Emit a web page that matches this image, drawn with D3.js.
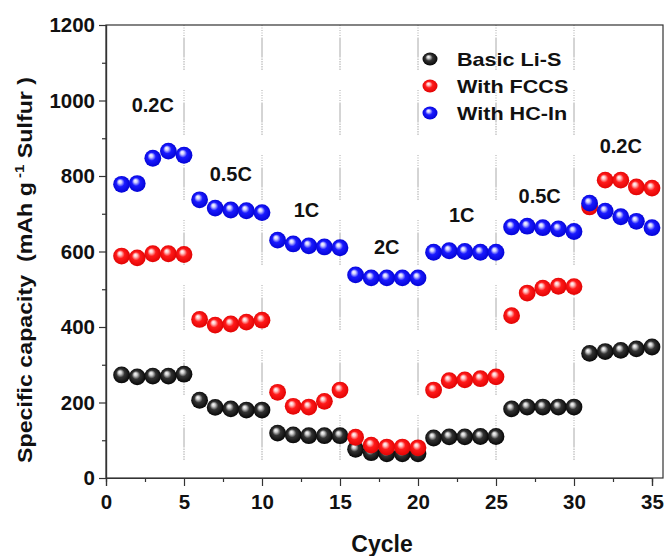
<!DOCTYPE html>
<html>
<head>
<meta charset="utf-8">
<script src="https://cdn.jsdelivr.net/npm/d3@7"></script>
<style>
  body { margin: 0; background: #fff; }
  svg { font-family: "Liberation Sans", Arial, sans-serif; font-weight: bold; }
</style>
</head>
<body>
<div id="chart"></div>
<script>
// cycle numbers
const cycles = d3.range(1, 36);

// capacities (mAh g-1 sulfur)
const basicLiS = [273, 268, 270, 270, 275, 206, 187, 183, 180, 180,
  119, 114, 112, 112, 112, 76, 67, 64, 64, 64,
  106, 109, 109, 110, 110, 183, 188, 188, 188, 188,
  330, 335, 338, 342, 347];
const withFCCS = [588, 583, 594, 594, 592, 420, 405, 408, 413, 418,
  227, 190, 188, 203, 233, 108, 87, 82, 82, 80,
  233, 258, 260, 263, 268, 430, 490, 503, 508, 507,
  718, 789, 789, 771, 768];
const withHCIn = [778, 780, 847, 866, 855, 737, 715, 710, 708, 703,
  630, 620, 615, 612, 610, 538, 530, 530, 530, 530,
  598, 602, 600, 598, 598, 665, 667, 663, 660, 653,
  728, 707, 692, 680, 663];

const seriesNames = ["Basic Li-S", "With FCCS", "With HC-In"];
const xTicks = [0, 5, 10, 15, 20, 25, 30, 35];
const yTicks = [0, 200, 400, 600, 800, 1000, 1200];
const rateMarks = [5, 10, 15, 20, 25, 30];

// rate labels in data coordinates
const rateLabels = [
  { text: "0.2C", cycle: 3.0, cap: 988 },
  { text: "0.5C", cycle: 8.0, cap: 804 },
  { text: "1C", cycle: 12.85, cap: 710 },
  { text: "2C", cycle: 18.0, cap: 612 },
  { text: "1C", cycle: 22.8, cap: 697 },
  { text: "0.5C", cycle: 27.8, cap: 747 },
  { text: "0.2C", cycle: 33.0, cap: 880 }
];

const width = 665, height = 556;

const svg = d3.select("#chart").append("svg")
  .attr("width", width)
  .attr("height", height);

const x = d3.scaleLinear().domain([0, 35]).range([106, 652]);
const y = d3.scaleLinear().domain([0, 1200]).range([478, 25]);
const xRight = 663;

// sphere gradients
const defs = svg.append("defs");
const sphereColors = [
  { id: "ballBlack", hi: "#cfcfcf", mid: "#333", base: "#000" },
  { id: "ballRed", hi: "#ffc8c8", mid: "#ff1a1a", base: "#dd0000" },
  { id: "ballBlue", hi: "#d0d0ff", mid: "#1a1aff", base: "#0000d0" }
];
sphereColors.forEach(c => {
  const g = defs.append("radialGradient")
    .attr("id", c.id)
    .attr("cx", "50%").attr("cy", "50%").attr("r", "55%")
    .attr("fx", "38%").attr("fy", "32%");
  g.append("stop").attr("offset", "0%").attr("stop-color", "#fff");
  g.append("stop").attr("offset", "18%").attr("stop-color", c.hi);
  g.append("stop").attr("offset", "45%").attr("stop-color", c.mid);
  g.append("stop").attr("offset", "100%").attr("stop-color", c.base);
});

// dotted rate separators
svg.append("g").selectAll("line")
  .data(rateMarks)
  .join("line")
  .attr("x1", d => x(d)).attr("x2", d => x(d))
  .attr("y1", y(1200)).attr("y2", y(0))
  .attr("stroke", "#aaa")
  .attr("stroke-width", 1)
  .attr("stroke-dasharray", "1,1.5,1,1.5,1,1.5,1,1.5,1,1.5,20");

// frame
svg.append("rect")
  .attr("x", x(0)).attr("y", y(1200))
  .attr("width", xRight - x(0)).attr("height", y(0) - y(1200))
  .attr("fill", "none")
  .attr("stroke", "#333")
  .attr("stroke-width", 1.2);

// axes
const xAxis = svg.append("g")
  .attr("transform", `translate(0,${y(0)})`)
  .call(d3.axisBottom(x).tickValues(xTicks).tickSize(8).tickPadding(8));
const xMinor = svg.append("g")
  .attr("transform", `translate(0,${y(0)})`)
  .call(d3.axisBottom(x).tickValues(d3.range(2.5, 36, 5)).tickSize(4).tickFormat(""));

const yAxis = svg.append("g")
  .attr("transform", `translate(${x(0)},0)`)
  .call(d3.axisLeft(y).tickValues(yTicks).tickSize(7).tickPadding(4).tickFormat(d3.format("d")));
const yMinor = svg.append("g")
  .attr("transform", `translate(${x(0)},0)`)
  .call(d3.axisLeft(y).tickValues(d3.range(100, 1200, 200)).tickSize(4).tickFormat(""));

[xAxis, xMinor, yAxis, yMinor].forEach(a => {
  a.select(".domain").attr("stroke", "#333").attr("stroke-width", 1.2);
  a.selectAll(".tick line").attr("stroke", "#333").attr("stroke-width", 1.2);
  a.selectAll("text")
    .attr("fill", "#111")
    .style("font-size", "20.5px")
    .style("font-family", "'Liberation Sans', Arial, sans-serif")
    .style("font-weight", "bold");
});

// axis titles
svg.append("text")
  .attr("x", 382)
  .attr("y", 552)
  .attr("text-anchor", "middle")
  .style("font-size", "23px")
  .attr("fill", "#111")
  .text("Cycle");

const yTitle = svg.append("text")
  .attr("transform", `translate(32,270) rotate(-90) scale(1.16,1)`)
  .attr("text-anchor", "middle")
  .style("font-size", "20px")
  .style("white-space", "pre")
  .attr("fill", "#111");
yTitle.append("tspan").text("Specific capacity  (mAh g");
yTitle.append("tspan").attr("dy", -8).style("font-size", "13px").text(" -1");
yTitle.append("tspan").attr("dy", 8).text(" Sulfur )");

// rate labels
svg.append("g").selectAll("text")
  .data(rateLabels)
  .join("text")
  .attr("x", d => x(d.cycle))
  .attr("y", d => y(d.cap) + 7)
  .attr("text-anchor", "middle")
  .style("font-size", "20px")
  .attr("fill", "#111")
  .text(d => d.text);

// data spheres
const allSeries = [basicLiS, withFCCS, withHCIn];
const r = 8.4;
allSeries.forEach((vals, i) => {
  svg.append("g").selectAll("circle")
    .data(vals)
    .join("circle")
    .attr("cx", (d, j) => x(cycles[j]))
    .attr("cy", d => y(d))
    .attr("r", r)
    .attr("fill", `url(#${sphereColors[i].id})`);
});

// legend
const legend = svg.append("g");
seriesNames.forEach((name, i) => {
  const ly = 59 + i * 27;
  legend.append("ellipse")
    .attr("cx", 430).attr("cy", ly).attr("rx", 7.5).attr("ry", 6.5)
    .attr("fill", `url(#${sphereColors[i].id})`);
  legend.append("text")
    .attr("transform", `translate(457,${ly + 6.5}) scale(1.2,1)`)
    .style("font-size", "18px")
    .attr("fill", "#111")
    .text(name);
});
</script>
</body>
</html>
